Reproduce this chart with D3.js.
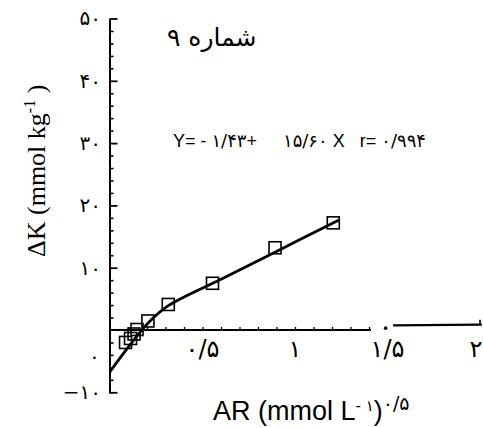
<!doctype html>
<html lang="fa">
  <head>
    <meta charset="utf-8" />
    <title>AR - DeltaK</title>
    <script src="https://cdn.jsdelivr.net/npm/d3@7"></script>
    <style>
     body {
       margin: 0;
       background: white;
     }
     svg {
       display: block;
     }
     .fa {
       font-family: "DejaVu Sans", sans-serif;
     }
    </style>
  </head>

  <body>
    <div id="chart"></div>

    <script>
    // points (AR, deltaK)
    var arValues = [0.084, 0.111, 0.130, 0.146, 0.205, 0.315, 0.554, 0.892, 1.207];
    var dkValues = [-2.0, -1.36, -0.64, 0.08, 1.45, 4.1, 7.5, 13.2, 17.2];

    // hand drawn fit line, bends near the origin, straight above
    var fitX = [0, 0.108, 0.205, 0.315, 0.6, 0.9, 1.238];
    var fitY = [-6.7, -2.4, 1.1, 3.9, 8.15, 12.62, 17.65];

    var xTickValues = [0.5, 1, 1.5, 2];
    var yTickValues = [-10, 10, 20, 30, 40, 50];

    var title = "شماره ۹";
    var eqParts = ["Y= - ۱/۴۳+", "۱۵/۶۰ X", "r= ۰/۹۹۴"];
    var eqAt = [0.34, 0.935, 1.35];

    var width = 483, height = 428;

    var x = d3.scaleLinear().domain([0, 2]).range([110, 480]);
    var y = d3.scaleLinear().domain([-10, 50]).range([392.3, 18.5]);

    // persian digits, "/" as decimal sign
    function toFa(n) {
      var fa = "۰۱۲۳۴۵۶۷۸۹";
      return String(n).replace(/[0-9]/g, function (c) { return fa[+c]; })
                      .replace(".", "/")
                      .replace("-", "−");
    }

    var svg = d3.select("#chart").append("svg")
        .attr("width", width)
        .attr("height", height);

    // y axis: major ticks inward, minor every 2
    svg.append("g")
        .attr("transform", "translate(" + x(0) + ",0)")
        .call(d3.axisLeft(y).tickValues(d3.range(-8, 50, 2).filter(function (v) { return v % 10 != 0; }))
          .tickSize(-3.5).tickFormat(""))
        .call(function (g) { g.select(".domain").remove(); })
        .selectAll("line").attr("stroke-width", 1.6);

    var yAxis = svg.append("g")
        .attr("transform", "translate(" + x(0) + ",0)")
        .call(d3.axisLeft(y).tickValues(yTickValues).tickSize(-7.5).tickPadding(9).tickFormat(toFa));
    yAxis.select(".domain").remove();
    yAxis.selectAll("line").attr("stroke-width", 1.8);
    yAxis.selectAll("text")
        .attr("class", "fa")
        .attr("font-size", 20)
        .attr("fill", "black");

    svg.append("line")
        .attr("x1", x(0)).attr("x2", x(0))
        .attr("y1", y(-10.2)).attr("y2", y(50))
        .attr("stroke", "black")
        .attr("stroke-width", 2);

    // the "0" sits low, off its tick, as in the scan
    svg.append("text")
        .attr("class", "fa")
        .attr("x", x(-0.085))
        .attr("y", y(-4.1))
        .attr("dy", "0.35em")
        .attr("text-anchor", "middle")
        .attr("font-size", 20)
        .text(toFa(0));

    // x axis: main run, a dot, then a slightly raised run up to 2
    svg.append("line")
        .attr("x1", x(0)).attr("x2", x(1.41))
        .attr("y1", y(0)).attr("y2", y(0))
        .attr("stroke", "black")
        .attr("stroke-width", 2);
    svg.append("circle")
        .attr("cx", x(1.49)).attr("cy", y(0.3))
        .attr("r", 1.8);
    svg.append("line")
        .attr("x1", x(1.53)).attr("x2", x(2.01))
        .attr("y1", y(0.75)).attr("y2", y(0.85))
        .attr("stroke", "black")
        .attr("stroke-width", 2.2);

    svg.append("g")
        .attr("transform", "translate(0," + y(0) + ")")
        .call(d3.axisBottom(x).tickValues(d3.range(1, 15).map(function (i) { return i / 10; }))
          .tickSize(-3).tickFormat(""))
        .call(function (g) { g.select(".domain").remove(); })
        .selectAll("line").attr("stroke-width", 1.3);

    svg.append("line")
        .attr("x1", x(2)).attr("x2", x(2))
        .attr("y1", y(0.85)).attr("y2", y(0.85) - 5)
        .attr("stroke", "black")
        .attr("stroke-width", 1.6);

    // last label sits against the page edge
    svg.append("g").selectAll("text")
        .data(xTickValues)
        .join("text")
        .attr("class", "fa")
        .attr("x", function (d) { return Math.min(x(d), width - 7); })
        .attr("y", y(0) + 27)
        .attr("text-anchor", "middle")
        .attr("font-size", 24)
        .text(toFa);

    // fit line
    var line = d3.line()
        .x(function (d, i) { return x(fitX[i]); })
        .y(function (d, i) { return y(fitY[i]); })
        .curve(d3.curveCatmullRom);

    svg.append("path")
        .datum(fitX)
        .attr("d", line)
        .attr("fill", "none")
        .attr("stroke", "black")
        .attr("stroke-width", 2.8);

    // open squares
    svg.append("g").selectAll("rect")
        .data(arValues)
        .join("rect")
        .attr("x", function (d) { return x(d) - 6; })
        .attr("y", function (d, i) { return y(dkValues[i]) - 6; })
        .attr("width", 12)
        .attr("height", 12)
        .attr("fill", "none")
        .attr("stroke", "black")
        .attr("stroke-width", 1.6);

    // title and equation
    svg.append("text")
        .attr("class", "fa")
        .attr("x", x(0.55))
        .attr("y", 46)
        .attr("text-anchor", "middle")
        .attr("font-size", 25)
        .text(title);

    // persian digit runs get a bigger size so they match the latin letters
    var eq = svg.append("g").selectAll("text")
        .data(eqParts)
        .join("text")
        .attr("x", function (d, i) { return x(eqAt[i]); })
        .attr("y", 147)
        .attr("font-family", "Liberation Sans, DejaVu Sans, sans-serif")
        .attr("font-size", 18);
    eq.selectAll("tspan")
        .data(function (d) { return d.match(/[۰-۹\/]+|[^۰-۹\/]+/g); })
        .join("tspan")
        .attr("font-family", function (d) { return /[۰-۹]/.test(d) ? "DejaVu Sans" : null; })
        .attr("font-size", function (d) { return /[۰-۹]/.test(d) ? 18 : null; })
        .text(function (d) { return d; });

    // axis titles
    var yl = svg.append("text")
        .attr("transform", "translate(45," + 257 + ") rotate(-90)")
        .attr("font-family", "Liberation Serif, serif")
        .attr("font-size", 26);
    yl.append("tspan").text("ΔK (mmol kg");
    yl.append("tspan").attr("dy", -10).attr("font-size", 16).text("-1");
    yl.append("tspan").attr("dy", 10).text(" )");

    var xl = svg.append("text")
        .attr("x", 213)
        .attr("y", 420)
        .attr("font-family", "Liberation Sans, DejaVu Sans, sans-serif")
        .attr("font-size", 27);
    xl.append("tspan").text("AR (mmol L");
    xl.append("tspan").attr("dy", -9).attr("font-size", 15).attr("font-family", "DejaVu Sans").text("- ۱");
    xl.append("tspan").attr("dy", 9).text(")");
    xl.append("tspan").attr("dy", -10).attr("font-size", 19).attr("font-family", "DejaVu Sans").text("۰/۵");
    </script>
  </body>
</html>
